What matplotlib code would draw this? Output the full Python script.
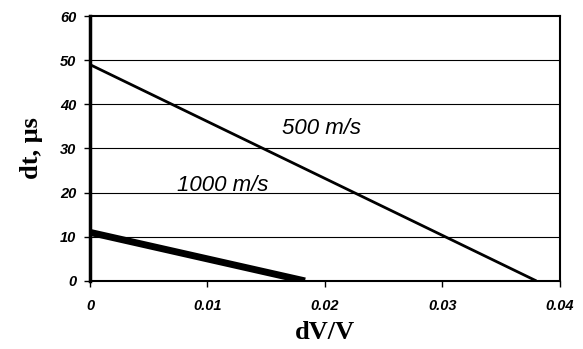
import matplotlib.pyplot as plt

# two straight lines: dt vs dV/V
dv_500 = [0.0, 0.038]
dt_500 = [49.0, 0.0]
dv_1000 = [0.0, 0.0183]
dt_1000 = [11.0, 0.0]

xticks = [0, 0.01, 0.02, 0.03, 0.04]
xticklabels = ["0", "0.01", "0.02", "0.03", "0.04"]
yticks = [0, 10, 20, 30, 40, 50, 60]

fig = plt.figure(figsize=(5.83, 3.49), dpi=100)
ax = fig.add_axes([0.1544, 0.195, 0.806, 0.759])

for y in yticks[1:-1]:
    ax.axhline(y, color="black", lw=0.8, zorder=1)

ax.plot(dv_500, dt_500, color="black", lw=2.0, solid_capstyle="butt", zorder=3)
ax.plot(dv_1000, dt_1000, color="black", lw=5.0, solid_capstyle="butt", zorder=3)

ax.text(0.0197, 34.6, "500 m/s", fontsize=16, style="italic",
        family="Liberation Sans", ha="center", va="center")
ax.text(0.0113, 21.7, "1000 m/s", fontsize=16, style="italic",
        family="Liberation Sans", ha="center", va="center")

ax.set_xlim(0, 0.04)
ax.set_ylim(0, 60)
ax.set_xticks(xticks)
ax.set_xticklabels(xticklabels)
ax.set_yticks(yticks)
for lab in ax.get_xticklabels() + ax.get_yticklabels():
    lab.set_family("Liberation Sans")
    lab.set_fontweight("bold")
    lab.set_fontstyle("italic")
    lab.set_fontsize(10.5)
ax.tick_params(direction="out", length=4, width=1, pad=6)
ax.tick_params(axis="x", pad=9)

ax.spines["left"].set_linewidth(2.5)
ax.spines["bottom"].set_linewidth(1.5)
ax.spines["top"].set_linewidth(1.5)
ax.spines["right"].set_linewidth(1.5)

ax.set_xlabel("dV/V", family="Liberation Serif", fontweight="bold", fontsize=19,
              labelpad=6)
ax.set_ylabel("dt, \u03bcs", family="Liberation Serif", fontweight="bold", fontsize=19,
              labelpad=12)

fig.savefig("out.png", dpi=100)
